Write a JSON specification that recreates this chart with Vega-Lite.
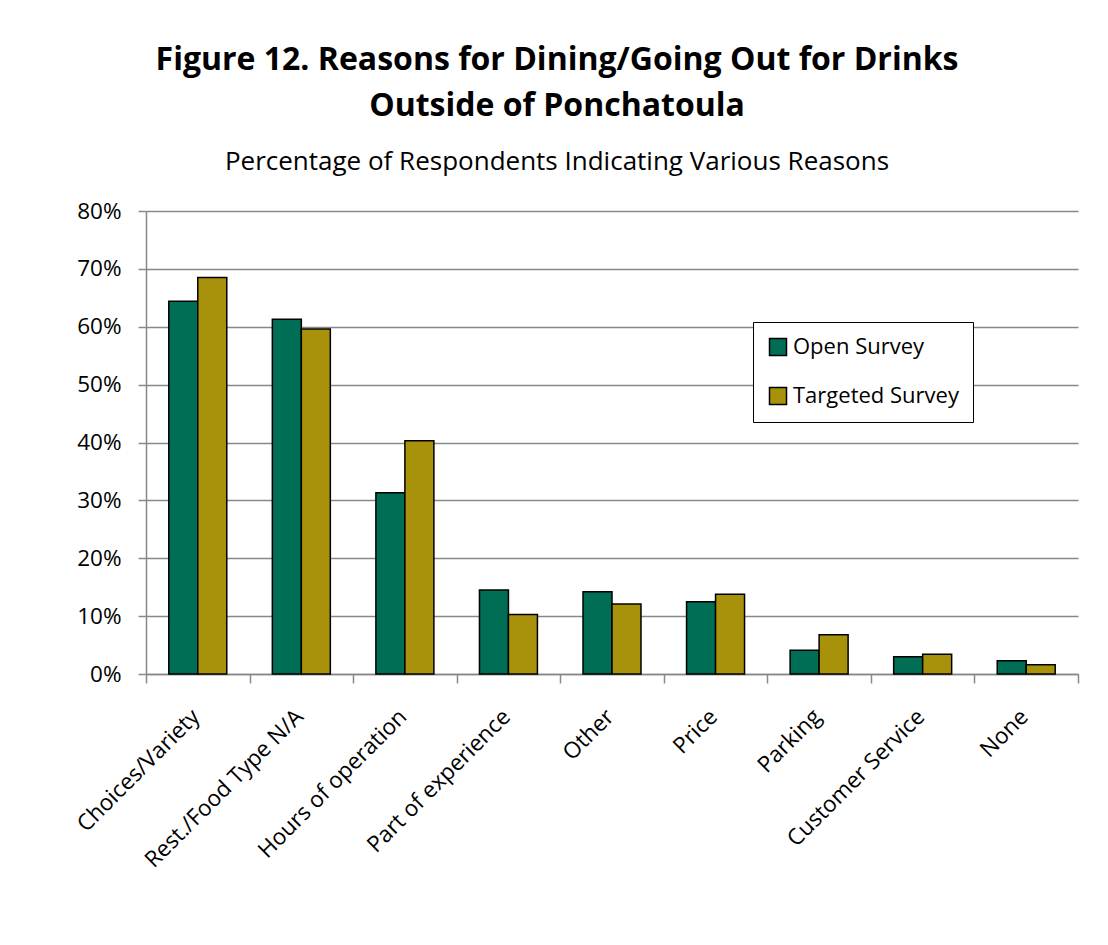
{
  "$schema": "https://vega.github.io/schema/vega-lite/v6.json",
  "autosize": "none",
  "width": 932,
  "height": 463,
  "padding": {"left": 146, "top": 211, "right": 30, "bottom": 271},
  "background": "white",
  "title": {
    "text": ["Figure 12. Reasons for Dining/Going Out for Drinks", "Outside of Ponchatoula"],
    "subtitle": "Percentage of Respondents  Indicating  Various Reasons",
    "anchor": "middle",
    "dx": -55,
    "offset": 24,
    "font": "Open Sans",
    "fontSize": 32,
    "fontWeight": "bold",
    "lineHeight": 46,
    "color": "black",
    "subtitleFont": "Open Sans",
    "subtitleFontSize": 26,
    "subtitleColor": "black",
    "subtitlePadding": 26
  },
  "data": {
    "values": [
      {"reason": "Choices/Variety", "survey": "Open Survey", "pct": 0.644},
      {"reason": "Choices/Variety", "survey": "Targeted Survey", "pct": 0.685},
      {"reason": "Rest./Food Type N/A", "survey": "Open Survey", "pct": 0.613},
      {"reason": "Rest./Food Type N/A", "survey": "Targeted Survey", "pct": 0.596},
      {"reason": "Hours of operation", "survey": "Open Survey", "pct": 0.313},
      {"reason": "Hours of operation", "survey": "Targeted Survey", "pct": 0.403},
      {"reason": "Part of experience", "survey": "Open Survey", "pct": 0.145},
      {"reason": "Part of experience", "survey": "Targeted Survey", "pct": 0.103},
      {"reason": "Other", "survey": "Open Survey", "pct": 0.142},
      {"reason": "Other", "survey": "Targeted Survey", "pct": 0.121},
      {"reason": "Price", "survey": "Open Survey", "pct": 0.125},
      {"reason": "Price", "survey": "Targeted Survey", "pct": 0.138},
      {"reason": "Parking", "survey": "Open Survey", "pct": 0.041},
      {"reason": "Parking", "survey": "Targeted Survey", "pct": 0.068},
      {"reason": "Customer Service", "survey": "Open Survey", "pct": 0.030},
      {"reason": "Customer Service", "survey": "Targeted Survey", "pct": 0.034},
      {"reason": "None", "survey": "Open Survey", "pct": 0.023},
      {"reason": "None", "survey": "Targeted Survey", "pct": 0.016}
    ]
  },
  "mark": {"type": "bar", "stroke": "black", "strokeWidth": 1.5},
  "encoding": {
    "x": {
      "field": "reason",
      "type": "nominal",
      "sort": null,
      "title": null,
      "scale": {"paddingInner": 0, "paddingOuter": 0},
      "axis": {
        "labelAngle": -45,
        "labelFont": "Open Sans",
        "labelFontSize": 22.5,
        "labelColor": "black",
        "labelPadding": 22,
        "labelOffset": -10,
        "labelLimit": 0,
        "tickBand": "extent",
        "tickSize": 9,
        "tickColor": "#888888",
        "tickWidth": 1.5,
        "domainColor": "#888888",
        "domainWidth": 1.5,
        "grid": false
      }
    },
    "xOffset": {"field": "survey", "type": "nominal", "scale": {"paddingInner": 0, "paddingOuter": 0.786}},
    "y": {
      "field": "pct",
      "type": "quantitative",
      "title": null,
      "scale": {"domain": [0, 0.8], "nice": false},
      "axis": {
        "values": [0, 0.1, 0.2, 0.3, 0.4, 0.5, 0.6, 0.7, 0.8],
        "format": ".0%",
        "labelFont": "Open Sans",
        "labelFontSize": 22.5,
        "labelColor": "black",
        "labelPadding": 17,
        "tickSize": 8,
        "tickColor": "#888888",
        "tickWidth": 1.5,
        "domainColor": "#888888",
        "domainWidth": 1.5,
        "gridColor": "#888888",
        "gridWidth": 1.5
      }
    },
    "color": {
      "field": "survey",
      "type": "nominal",
      "title": null,
      "scale": {"domain": ["Open Survey", "Targeted Survey"], "range": ["#006d55", "#a9920b"]},
      "legend": {
        "orient": "none",
        "legendX": 607,
        "legendY": 111,
        "fillColor": "white",
        "strokeColor": "black",
        "padding": 14,
        "symbolType": "square",
        "symbolSize": 289,
        "symbolStrokeColor": "black",
        "symbolStrokeWidth": 1.5,
        "symbolOpacity": 1,
        "labelFont": "Open Sans",
        "labelFontSize": 22,
        "labelLimit": 0,
        "labelColor": "black",
        "labelOffset": 4,
        "rowPadding": 25
      }
    }
  },
  "config": {"view": {"stroke": null}}
}
